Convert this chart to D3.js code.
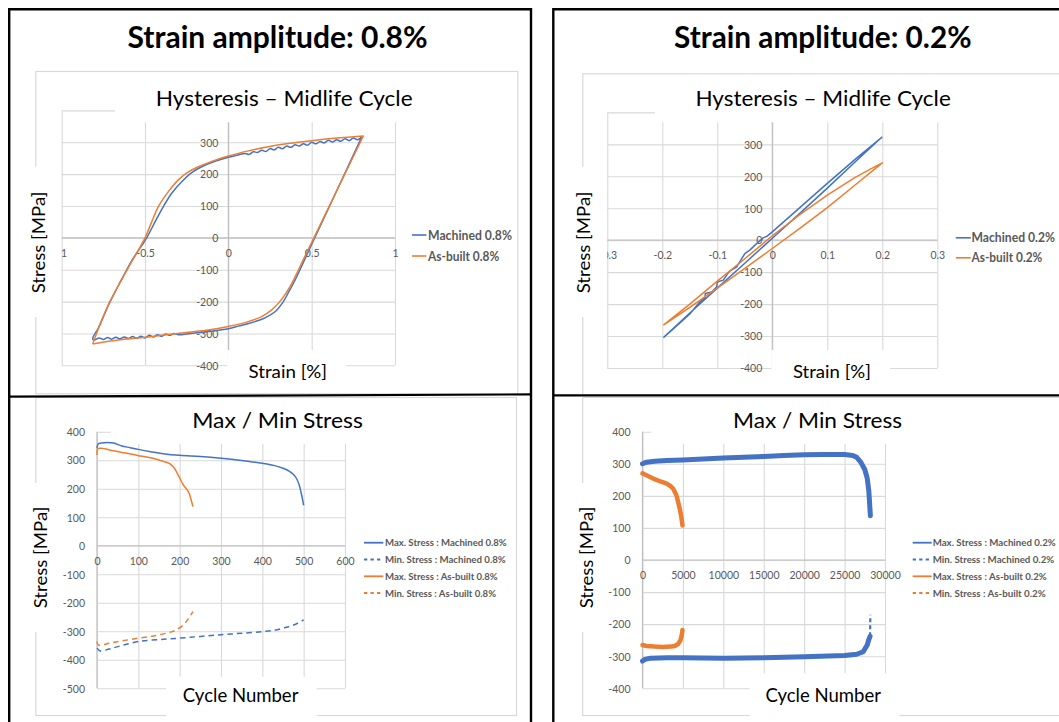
<!DOCTYPE html>
<html>
<head>
<meta charset="utf-8">
<script src="https://cdn.jsdelivr.net/npm/d3@7"></script>
<style>
  body { margin: 0; background: #fff; }
  svg { display: block; }
</style>
</head>
<body>
<svg id="fig" width="1059" height="722"></svg>
<script>
// ---------- data ----------
// Hysteresis loops, [strain %, stress MPa]; loading branch (min -> max), then unloading (max -> min)
const machined08Loading = [
  [-0.814,-320],[-0.812,-312],[-0.78,-283],[-0.72,-212],[-0.65,-140],[-0.58,-72],[-0.49,0],
  [-0.44,50],[-0.39,98],[-0.34,140],[-0.28,176],[-0.22,205],[-0.16,223],[-0.08,240],[0,253],
  [0.05,259],[0.100,265],[0.125,262],[0.150,270],[0.175,268],[0.200,275],[0.225,271],[0.250,280],
  [0.275,276],[0.300,284],[0.325,280],[0.350,288],[0.375,284],[0.400,292],[0.425,288],[0.450,295],
  [0.475,291],[0.500,300],[0.525,295],[0.550,302],[0.575,298],[0.600,306],[0.625,301],[0.650,308],
  [0.675,303],[0.700,311],[0.725,305],[0.750,313],[0.775,308],[0.800,316]
];
const machined08Unloading = [
  [0.80,316],[0.72,226],[0.62,114],[0.52,2],[0.45,-77],[0.40,-133],[0.36,-172],[0.33,-200],
  [0.28,-232],[0.22,-251],[0.14,-266],[0.06,-277],[0,-285],[-0.12,-294],[-0.24,-301],
  [-0.300,-304],[-0.325,-300],[-0.350,-306],[-0.375,-302],[-0.400,-309],[-0.425,-304],[-0.450,-311],
  [-0.475,-306],[-0.500,-314],[-0.525,-309],[-0.550,-315],[-0.575,-310],[-0.600,-316],[-0.625,-311],
  [-0.650,-317],[-0.675,-312],[-0.700,-318],[-0.725,-313],[-0.750,-319],[-0.775,-314],[-0.800,-320],
  [-0.814,-320]
];
const asBuilt08Loading = [
  [-0.814,-333],[-0.78,-285],[-0.72,-210],[-0.65,-140],[-0.58,-75],[-0.50,0],[-0.46,50],[-0.42,98],
  [-0.36,145],[-0.30,182],[-0.24,207],[-0.18,223],[-0.10,240],[0,257],[0.12,273],[0.24,286],
  [0.36,296],[0.50,305],[0.65,313],[0.81,320]
];
const asBuilt08Unloading = [
  [0.81,320],[0.72,223],[0.62,115],[0.52,7],[0.45,-68],[0.40,-123],[0.36,-162],[0.32,-193],
  [0.26,-226],[0.20,-247],[0.10,-266],[0,-278],[-0.12,-289],[-0.24,-296],[-0.36,-303],
  [-0.50,-312],[-0.65,-320],[-0.814,-333]
];
const machined02Loading = [
  [-0.198,-305],[-0.17,-262],[-0.15,-231],[-0.132,-193],[-0.122,-178],[-0.122,-167],[-0.11,-162],
  [-0.101,-146],[-0.1,-131],[-0.089,-125],[-0.082,-107],[-0.077,-96],[-0.065,-84],[-0.05,-42],
  [-0.041,-31],[-0.028,-10],[-0.016,8],[-0.01,12],[0,26],[0.05,102],[0.10,178],[0.15,252],[0.199,322]
];
const machined02Unloading = [
  [0.199,322],[0.15,244],[0.10,163],[0.05,84],[0,6],[-0.05,-72],[-0.10,-150],[-0.15,-228],[-0.198,-305]
];
const asBuilt02Loading = [
  [-0.198,-266],[-0.15,-200],[-0.10,-128],[-0.05,-58],[0,14],[0.05,80],[0.10,141],[0.15,196],
  [0.18,224],[0.20,242]
];
const asBuilt02Unloading = [
  [0.20,242],[0.15,172],[0.10,102],[0.05,37],[0,-26],[-0.05,-88],[-0.10,-150],[-0.15,-210],[-0.198,-266]
];

// Peak stresses per cycle, [cycle, stress MPa]
const maxMachined08 = [
  [0,342],[3,358],[10,360],[25,362],[40,360],[60,350],[80,344],[100,338],[130,330],[160,323],
  [200,317],[250,313],[300,307],[350,299],[400,289],[430,281],[450,272],[465,262],[476,249],
  [483,235],[489,214],[494,185],[497,165],[500,142]
];
const minMachined08 = [
  [0,-359],[8,-369],[30,-362],[60,-350],[100,-336],[150,-329],[200,-324],[250,-318],[300,-312],
  [350,-307],[400,-301],[430,-296],[450,-289],[476,-278],[500,-260]
];
const maxAsBuilt08 = [
  [0,318],[2,340],[10,342],[40,333],[70,325],[100,316],[120,311],[142,304],[160,296],[175,289],
  [185,276],[192,260],[200,238],[209,213],[221,190],[227,165],[232,137]
];
const minAsBuilt08 = [
  [0,-336],[3,-348],[30,-342],[60,-334],[100,-324],[130,-318],[158,-310],[180,-302],[192,-295],
  [209,-278],[220,-258],[232,-231]
];
const maxMachined02 = [
  [0,300],[500,305],[1500,308],[3000,310],[5000,312],[7500,315],[10000,318],[12500,320],[15000,323],
  [17500,326],[20000,328],[22500,329],[25000,329],[26000,326],[26500,320],[27000,305],[27500,282],
  [27800,255],[28000,215],[28100,175],[28190,138]
];
const minMachined02 = [
  [0,-315],[300,-310],[1000,-306],[3000,-305],[5000,-305],[10000,-306],[15000,-305],[20000,-302],
  [25000,-298],[26500,-294],[27300,-286],[27800,-265],[28000,-248],[28150,-238],[28190,-171]
];
const maxAsBuilt02 = [
  [0,270],[500,264],[1000,258],[1500,252],[2000,247],[2500,243],[3000,238],[3500,230],[3800,222],
  [4200,202],[4600,161],[4800,135],[4950,108]
];
const minAsBuilt02 = [
  [0,-265],[500,-268],[1500,-270],[2500,-271],[3500,-270],[4000,-268],[4400,-262],[4700,-250],
  [4850,-235],[4950,-218]
];

// Axis ticks (gridlines) and labelled ticks
const hystStressTicks = [-400,-300,-200,-100,0,100,200,300,400];
const hystStressLabels = [-400,-300,-200,-100,0,100,200,300];
const strainTicks08 = [-1,-0.5,0,0.5,1];
const strainTicks02 = [-0.3,-0.2,-0.1,0,0.1,0.2,0.3];
const cycleTicks08 = [0,100,200,300,400,500,600];
const peakStressTicks08 = [-500,-400,-300,-200,-100,0,100,200,300,400];
const cycleTicks02 = [0,5000,10000,15000,20000,25000,30000];
const peakStressTicks02 = [-400,-300,-200,-100,0,100,200,300,400];

// Text
const panelTitles = ['Strain amplitude: 0.8%', 'Strain amplitude: 0.2%'];
const hystLegend08 = ['Machined 0.8%', 'As-built 0.8%'];
const hystLegend02 = ['Machined 0.2%', 'As-built 0.2%'];
const peakLegend08 = ['Max. Stress : Machined 0.8%', 'Min. Stress : Machined 0.8%',
                      'Max. Stress : As-built 0.8%', 'Min. Stress : As-built 0.8%'];
const peakLegend02 = ['Max. Stress : Machined 0.2%', 'Min. Stress : Machined 0.2%',
                      'Max. Stress : As-built 0.2%', 'Min. Stress : As-built 0.2%'];

// ---------- drawing ----------
const FONT = "Lato, 'Open Sans', 'Liberation Sans', sans-serif";
const BLUE = '#4472C4', ORANGE = '#ED7D31';
const GRID = '#d9d9d9', AXIS = '#bfbfbf', LABEL = '#595959';
const svg = d3.select('#fig');
const defs = svg.append('defs');

function fitted(sel, w) {
  if (w) sel.attr('textLength', w).attr('lengthAdjust', 'spacingAndGlyphs');
  return sel;
}
function whiteBox(g, b) {
  g.append('rect').attr('x', b[0]).attr('y', b[1]).attr('width', b[2] - b[0]).attr('height', b[3] - b[1])
    .attr('fill', '#fff');
}

let clipId = 0;
function drawChart(c) {
  const g = svg.append('g');
  const x = d3.scaleLinear().domain(c.xDomain).range([c.plot.x0, c.plot.x1]);
  const y = d3.scaleLinear().domain(c.yDomain).range([c.plot.y1, c.plot.y0]);
  const pw = c.plot.x1 - c.plot.x0, ph = c.plot.y1 - c.plot.y0;

  // chart area outline
  g.append('rect').attr('x', c.area[0] + 0.5).attr('y', c.area[1] + 0.5)
    .attr('width', c.area[2] - c.area[0]).attr('height', c.area[3] - c.area[1])
    .attr('fill', 'none').attr('stroke', GRID).attr('stroke-width', 1.2);

  // gridlines
  const gv = g.append('g').attr('transform', `translate(0,${c.plot.y1})`)
    .call(d3.axisBottom(x).tickValues(c.xTicks).tickSize(-ph).tickFormat(''));
  const gh = g.append('g').attr('transform', `translate(${c.plot.x0},0)`)
    .call(d3.axisLeft(y).tickValues(c.yTicks).tickSize(-pw).tickFormat(''));
  [gv, gh].forEach(a => { a.select('.domain').remove(); a.selectAll('line').attr('stroke', GRID).attr('stroke-width', 1.1); });

  // axis lines
  const ax0 = c.crossZero ? x(0) : c.plot.x0;
  g.append('line').attr('x1', c.plot.x0).attr('x2', c.plot.x1).attr('y1', y(0)).attr('y2', y(0))
    .attr('stroke', AXIS).attr('stroke-width', 1.2);
  g.append('line').attr('x1', ax0).attr('x2', ax0).attr('y1', c.plot.y0).attr('y2', c.plot.y1)
    .attr('stroke', AXIS).attr('stroke-width', 1.2);

  // tick labels
  const yl = g.append('g').attr('transform', `translate(${ax0 - c.yLabelGap},0)`)
    .call(d3.axisLeft(y).tickValues(c.yLabels || c.yTicks).tickSize(0).tickPadding(0).tickFormat(d => String(d)));
  const xl = g.append('g').attr('transform', `translate(0,${y(0) + c.xLabelOffset})`)
    .call(d3.axisBottom(x).tickValues(c.xTicks).tickSize(0).tickPadding(0).tickFormat(d => String(d)));
  [yl, xl].forEach(a => {
    a.select('.domain').remove();
    a.attr('font-family', FONT).attr('font-size', 10.5);
    a.selectAll('text').attr('fill', LABEL);
  });
  xl.selectAll('text').attr('y', 0).attr('dy', '0.36em');
  yl.selectAll('text').attr('dy', '0.36em');
  if (c.clip) {
    const id = 'lblclip' + (clipId++);
    defs.append('clipPath').attr('id', id).append('rect')
      .attr('x', c.plot.x0).attr('y', -30).attr('width', pw + 40).attr('height', 60);
    xl.attr('clip-path', `url(#${id})`);
  }

  // white boxes behind the titles (they mask gridline ends and the area outline)
  whiteBox(g, c.titleBox);
  whiteBox(g, c.xTitleBox);
  whiteBox(g, c.yTitleBox);

  // series
  const line = d3.line().x(d => x(d[0])).y(d => y(d[1]));
  if (c.smooth) line.curve(d3.curveCatmullRom.alpha(0.5));
  c.series.forEach(s => {
    const main = s.tail ? s.data.slice(0, s.data.length - s.tail + 1) : s.data;
    g.append('path').datum(main).attr('d', line).attr('fill', 'none')
      .attr('stroke', s.color).attr('stroke-width', s.width)
      .attr('stroke-linejoin', 'round').attr('stroke-linecap', s.band ? 'round' : 'butt')
      .attr('stroke-dasharray', s.dash || null);
    if (s.tail) {
      g.append('path').datum(s.data.slice(s.data.length - s.tail)).attr('d', line).attr('fill', 'none')
        .attr('stroke', s.color).attr('stroke-width', 2.2).attr('stroke-dasharray', '4,3');
    }
  });

  // titles
  fitted(g.append('text').attr('x', c.title.cx).attr('y', c.title.y).attr('text-anchor', 'middle')
    .attr('font-family', FONT).attr('font-size', c.title.size).attr('fill', '#000').text(c.title.text), c.title.w);
  fitted(g.append('text').attr('x', c.xTitle.cx).attr('y', c.xTitle.y).attr('text-anchor', 'middle')
    .attr('font-family', FONT).attr('font-size', c.xTitle.size).attr('fill', '#000').text(c.xTitle.text), c.xTitle.w);
  fitted(g.append('text').attr('transform', `translate(${c.yTitle.x},${c.yTitle.cy}) rotate(-90)`)
    .attr('text-anchor', 'middle').attr('font-family', FONT).attr('font-size', c.yTitle.size)
    .attr('fill', '#000').text(c.yTitle.text), c.yTitle.w);

  // legend
  const L = c.legend;
  c.series.forEach((s, i) => {
    const ry = L.rows[i];
    const dashed = s.dash || s.legendDash;
    g.append('line').attr('x1', L.x0).attr('x2', L.x1).attr('y1', ry).attr('y2', ry)
      .attr('stroke', s.color).attr('stroke-width', L.sw).attr('stroke-dasharray', dashed ? L.dash : null);
    fitted(g.append('text').attr('x', L.tx).attr('y', ry).attr('dy', '0.36em')
      .attr('font-family', FONT).attr('font-size', L.size).attr('font-weight', 700)
      .attr('fill', LABEL).text(L.labels[i]), L.widths[i]);
  });
}

// Hysteresis, 0.8 %
drawChart({
  area: [35.3, 71, 517.3, 393.3],
  plot: { x0: 61.7, x1: 395, y0: 110.4, y1: 365.3 },
  xDomain: [-1, 1], yDomain: [-400, 400], xTicks: strainTicks08, yTicks: hystStressTicks,
  yLabels: hystStressLabels, smooth: true,
  crossZero: true, clip: true, yLabelGap: 10, xLabelOffset: 15.3,
  title: { text: 'Hysteresis – Midlife Cycle', cx: 284.2, y: 106, w: 256.8, size: 22 },
  titleBox: [115, 74, 455, 122.3],
  xTitle: { text: 'Strain [%]', cx: 287.8, y: 377.7, w: 78.6, size: 18 },
  xTitleBox: [227.3, 350, 346, 392.5],
  yTitle: { text: 'Stress [MPa]', x: 45.2, cy: 242.5, w: 101.7, size: 17.5 },
  yTitleBox: [26, 166.7, 50, 317],
  series: [
    { data: machined08Loading.concat(machined08Unloading), color: BLUE, width: 1.5 },
    { data: asBuilt08Loading.concat(asBuilt08Unloading), color: ORANGE, width: 1.5 }
  ],
  legend: { x0: 412, x1: 426.4, tx: 428, rows: [235, 256], size: 12.5, sw: 1.6,
            labels: hystLegend08, widths: [84, 71.3] }
});

// Hysteresis, 0.2 %
drawChart({
  area: [582.3, 73.3, 1075, 395],
  plot: { x0: 607.3, x1: 937.3, y0: 112.4, y1: 368 },
  xDomain: [-0.3, 0.3], yDomain: [-400, 400], xTicks: strainTicks02, yTicks: hystStressTicks,
  yLabels: hystStressLabels,
  crossZero: true, clip: true, yLabelGap: 10, xLabelOffset: 15.5,
  title: { text: 'Hysteresis – Midlife Cycle', cx: 823.1, y: 106, w: 255.4, size: 22 },
  titleBox: [655, 76, 991, 122.3],
  xTitle: { text: 'Strain [%]', cx: 831.9, y: 377.7, w: 78, size: 18 },
  xTitleBox: [771.3, 350, 890, 393],
  yTitle: { text: 'Stress [MPa]', x: 590, cy: 242.5, w: 101.7, size: 17.5 },
  yTitleBox: [572, 166.7, 597, 317],
  series: [
    { data: machined02Loading.concat(machined02Unloading), color: BLUE, width: 1.5 },
    { data: asBuilt02Loading.concat(asBuilt02Unloading), color: ORANGE, width: 1.5 }
  ],
  legend: { x0: 955.8, x1: 970.8, tx: 971.5, rows: [237.8, 257.8], size: 12.5, sw: 1.6,
            labels: hystLegend02, widths: [83.5, 70.8] }
});

// Peak stresses, 0.8 %
drawChart({
  area: [35.3, 397, 516, 715],
  plot: { x0: 97, x1: 345, y0: 431.7, y1: 688.3 },
  xDomain: [0, 600], yDomain: [-500, 400], xTicks: cycleTicks08, yTicks: peakStressTicks08,
  crossZero: false, clip: false, smooth: true, yLabelGap: 12, xLabelOffset: 15.7,
  title: { text: 'Max / Min Stress', cx: 277.5, y: 427.7, w: 170.7, size: 22 },
  titleBox: [110.8, 399, 444, 444],
  xTitle: { text: 'Cycle Number', cx: 240.6, y: 701.7, w: 115.6, size: 18.5 },
  xTitleBox: [166, 676.7, 316.7, 717],
  yTitle: { text: 'Stress [MPa]', x: 46.5, cy: 557.5, w: 101.7, size: 17.5 },
  yTitleBox: [26, 483, 50, 632],
  series: [
    { data: maxMachined08, color: BLUE, width: 1.5 },
    { data: minMachined08, color: BLUE, width: 1.5, dash: '5.5,4' },
    { data: maxAsBuilt08, color: ORANGE, width: 1.5 },
    { data: minAsBuilt08, color: ORANGE, width: 1.5, dash: '5.5,4' }
  ],
  legend: { x0: 364, x1: 383.3, tx: 385, rows: [542.7, 559.5, 576.3, 593], size: 9.8, sw: 1.8,
            dash: '3.3,3.2', labels: peakLegend08, widths: [121.7, 120.7, 112.7, 111] }
});

// Peak stresses, 0.2 %
drawChart({
  area: [582.2, 397, 1075, 715],
  plot: { x0: 642.5, x1: 885, y0: 431.7, y1: 688.3 },
  xDomain: [0, 30000], yDomain: [-400, 400], xTicks: cycleTicks02, yTicks: peakStressTicks02,
  crossZero: false, clip: false, yLabelGap: 12, xLabelOffset: 15.3,
  title: { text: 'Max / Min Stress', cx: 817.5, y: 427.7, w: 169, size: 22 },
  titleBox: [651.4, 399, 984, 444],
  xTitle: { text: 'Cycle Number', cx: 823.2, y: 701.7, w: 115.5, size: 18.5 },
  xTitleBox: [749.6, 673.3, 899.3, 717],
  yTitle: { text: 'Stress [MPa]', x: 593, cy: 557.5, w: 101.7, size: 17.5 },
  yTitleBox: [573, 483, 597, 632],
  series: [
    { data: maxMachined02, color: BLUE, width: 5, band: true },
    { data: minMachined02, color: BLUE, width: 5, band: true, tail: 2, legendDash: true },
    { data: maxAsBuilt02, color: ORANGE, width: 4.5, band: true },
    { data: minAsBuilt02, color: ORANGE, width: 4.5, band: true, legendDash: true }
  ],
  legend: { x0: 912.7, x1: 931.7, tx: 932.7, rows: [542.7, 559.5, 576.3, 593], size: 9.8, sw: 1.8,
            dash: '3.3,3.2', labels: peakLegend02, widths: [123, 121.6, 114, 113] }
});

// Panel frames
const frames = svg.append('g').attr('fill', 'none').attr('stroke', '#000');
frames.append('path').attr('d', 'M9.2,724V9.2H531V724').attr('stroke-width', 2.4);
frames.append('path').attr('d', 'M9.2,396.6L531,394.4').attr('stroke-width', 2.2);
frames.append('path').attr('d', 'M553.3,724V9.3H1062').attr('stroke-width', 2.4);
frames.append('path').attr('d', 'M553.3,395.3H1062').attr('stroke-width', 2.2);

// Panel headings
[[277.5, 300], [822.8, 297.5]].forEach((p, i) => {
  fitted(svg.append('text').attr('x', p[0]).attr('y', 48.3).attr('text-anchor', 'middle')
    .attr('font-family', FONT).attr('font-size', 30).attr('font-weight', 700).attr('fill', '#000')
    .text(panelTitles[i]), p[1]);
});
</script>
</body>
</html>
